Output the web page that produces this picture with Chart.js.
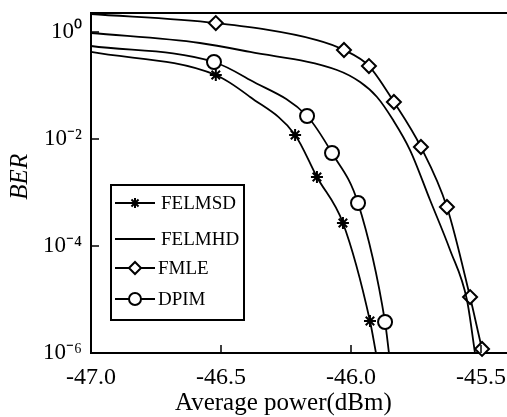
<!DOCTYPE html>
<html>
<head>
<meta charset="utf-8">
<title>BER vs average power</title>
<script src="https://cdn.jsdelivr.net/npm/chart.js"></script>
<style>
  html, body { margin: 0; padding: 0; background: #fff; }
</style>
</head>
<body>
<canvas id="berChart" width="507" height="417"></canvas>
<script>
// points that carry a marker
const felmsdPower = [-46.52, -46.215, -46.131, -46.031, -45.927];
const felmsdBer = [0.157, 0.0119, 0.00195, 2.69e-4, 3.96e-6];
// extra points on the same curve without a marker
const felmsdCurvePower = [-47.0, -46.388, -45.904];
const felmsdCurveBer = [0.423, 0.061, 1e-6];

const felmhdPower = [];
const felmhdBer = [];
const felmhdCurvePower = [-47.0, -46.581, -46.388, -46.054, -45.965, -45.9, -45.838, -45.773, -45.696, -45.619, -45.554, -45.523];
const felmhdCurveBer = [0.958, 0.623, 0.423, 0.195, 0.116, 0.061, 0.0226, 0.00622, 7.24e-4, 8.41e-5, 9.79e-6, 1e-6];

const fmlePower = [-46.52, -46.027, -45.931, -45.835, -45.731, -45.631, -45.542, -45.496];
const fmleBer = [1.47, 0.461, 0.231, 0.0492, 0.00708, 5.36e-4, 1.11e-5, 1.19e-6];
const fmleCurvePower = [-47.0, -46.131, -45.492];
const fmleCurveBer = [2.17, 0.708, 1e-6];

const dpimPower = [-46.527, -46.169, -46.073, -45.973, -45.869];
const dpimBer = [0.275, 0.0269, 0.00547, 6.37e-4, 3.8e-6];
const dpimCurvePower = [-47.0, -46.388, -45.854];
const dpimCurveBer = [0.547, 0.127, 1e-6];

const seriesNames = ['FELMSD', 'FELMHD', 'FMLE', 'DPIM'];
const xTicks = [-47.0, -46.5, -46.0, -45.5];
const yTicks = [1e-6, 1e-4, 1e-2, 1];
const yTickLabels = ['10\u207B\u2076', '10\u207B\u2074', '10\u207B\u00B2', '10\u2070'];

function points(mx, my, cx, cy) {
  const pts = mx.map((x, i) => ({ x: x, y: my[i], mark: true }));
  cx.forEach((x, i) => pts.push({ x: x, y: cy[i], mark: false }));
  return pts.sort((a, b) => a.x - b.x);
}

function curve(label, data, style, radius) {
  return {
    label: label,
    data: data,
    borderColor: '#000',
    borderWidth: 1.8,
    pointStyle: style,
    pointRadius: c => (c.raw && c.raw.mark ? radius : 0),
    legendRadius: radius,
    pointBorderWidth: 2,
    pointBorderColor: '#000',
    pointBackgroundColor: '#fff',
    cubicInterpolationMode: 'monotone',
    fill: false,
    clip: 10
  };
}

// top frame line and inward tick marks
const frame = {
  id: 'frame',
  afterDatasetsDraw(chart) {
    const { ctx, chartArea: a, scales: { x, y } } = chart;
    ctx.save();
    ctx.strokeStyle = '#000';
    ctx.lineWidth = 2;
    ctx.beginPath();
    ctx.moveTo(a.left - 1, a.top);
    ctx.lineTo(a.right, a.top);
    ctx.stroke();
    ctx.lineWidth = 1.5;
    ctx.beginPath();
    x.ticks.forEach(t => {
      const px = x.getPixelForValue(t.value);
      ctx.moveTo(px, a.bottom);
      ctx.lineTo(px, a.bottom - 8);
    });
    y.ticks.forEach(t => {
      const py = y.getPixelForValue(t.value);
      ctx.moveTo(a.left, py);
      ctx.lineTo(a.left + 8, py);
    });
    ctx.stroke();
    ctx.restore();
  }
};

// boxed legend inside the plot
const legendBox = {
  id: 'legendBox',
  afterDraw(chart) {
    const ctx = chart.ctx;
    const rows = [203, 239, 268, 299];
    const textX = [161, 161, 158, 158];
    ctx.save();
    ctx.fillStyle = '#fff';
    ctx.fillRect(111, 185, 133, 135);
    ctx.strokeStyle = '#000';
    ctx.lineWidth = 2;
    ctx.strokeRect(111, 185, 133, 135);
    chart.data.datasets.forEach((ds, i) => {
      const yy = rows[i];
      ctx.strokeStyle = '#000';
      ctx.lineWidth = 1.8;
      ctx.beginPath();
      ctx.moveTo(115, yy);
      ctx.lineTo(155, yy);
      ctx.stroke();
      if (ds.legendRadius) {
        ctx.fillStyle = '#fff';
        ctx.lineWidth = 2;
        Chart.helpers.drawPoint(ctx, {
          pointStyle: ds.pointStyle,
          radius: ds.legendRadius - 1,
          rotation: 0,
          borderWidth: 2
        }, 135, yy);
      }
      ctx.fillStyle = '#000';
      ctx.font = '19px "Liberation Serif"';
      ctx.textBaseline = 'middle';
      ctx.textAlign = 'left';
      ctx.fillText(ds.label, textX[i], yy + 1);
    });
    ctx.restore();
  }
};

new Chart(document.getElementById('berChart'), {
  type: 'line',
  data: {
    datasets: [
      curve(seriesNames[0], points(felmsdPower, felmsdBer, felmsdCurvePower, felmsdCurveBer), 'star', 6),
      curve(seriesNames[1], points(felmhdPower, felmhdBer, felmhdCurvePower, felmhdCurveBer), 'circle', 0),
      curve(seriesNames[2], points(fmlePower, fmleBer, fmleCurvePower, fmleCurveBer), 'rectRot', 7),
      curve(seriesNames[3], points(dpimPower, dpimBer, dpimCurvePower, dpimCurveBer), 'circle', 7)
    ]
  },
  options: {
    responsive: false,
    animation: false,
    layout: { padding: { top: 13, right: 0, bottom: 0, left: 0 } },
    plugins: { legend: { display: false }, tooltip: { enabled: false } },
    scales: {
      x: {
        type: 'linear',
        min: -47,
        max: -45.4,
        afterBuildTicks: s => { s.ticks = xTicks.map(v => ({ value: v })); },
        afterFit: s => { s.height = 64; s.paddingLeft = 0; s.paddingRight = 0; },
        grid: { drawOnChartArea: false, drawTicks: false },
        border: { color: '#000', width: 2 },
        ticks: {
          callback: v => v.toFixed(1),
          color: '#000',
          font: { family: 'Liberation Serif', size: 24, lineHeight: 1 },
          padding: 13,
          maxRotation: 0,
          autoSkip: false
        },
        title: {
          display: true,
          text: 'Average power(dBm)\u00A0\u00A0\u00A0\u00A0\u00A0',
          color: '#000',
          font: { family: 'Liberation Serif', size: 25, lineHeight: 1 },
          padding: { top: 0, bottom: 1 }
        }
      },
      y: {
        type: 'logarithmic',
        min: 1e-6,
        max: 2.265,
        afterBuildTicks: s => { s.ticks = yTicks.map(v => ({ value: v })); },
        afterFit: s => { s.width = 91; s.paddingTop = 0; s.paddingBottom = 0; },
        grid: { drawOnChartArea: false, drawTicks: false },
        border: { color: '#000', width: 2 },
        ticks: {
          callback: v => yTickLabels[yTicks.indexOf(v)],
          color: '#000',
          font: { family: 'Liberation Serif', size: 23, lineHeight: 1 },
          padding: 9,
          autoSkip: false
        },
        title: {
          display: true,
          text: '\u00A0\u00A0BER',
          color: '#000',
          font: { family: 'Liberation Serif', size: 25, style: 'italic', lineHeight: 1 },
          padding: { top: 8, bottom: 0 }
        }
      }
    }
  },
  plugins: [frame, legendBox]
});
</script>
</body>
</html>
